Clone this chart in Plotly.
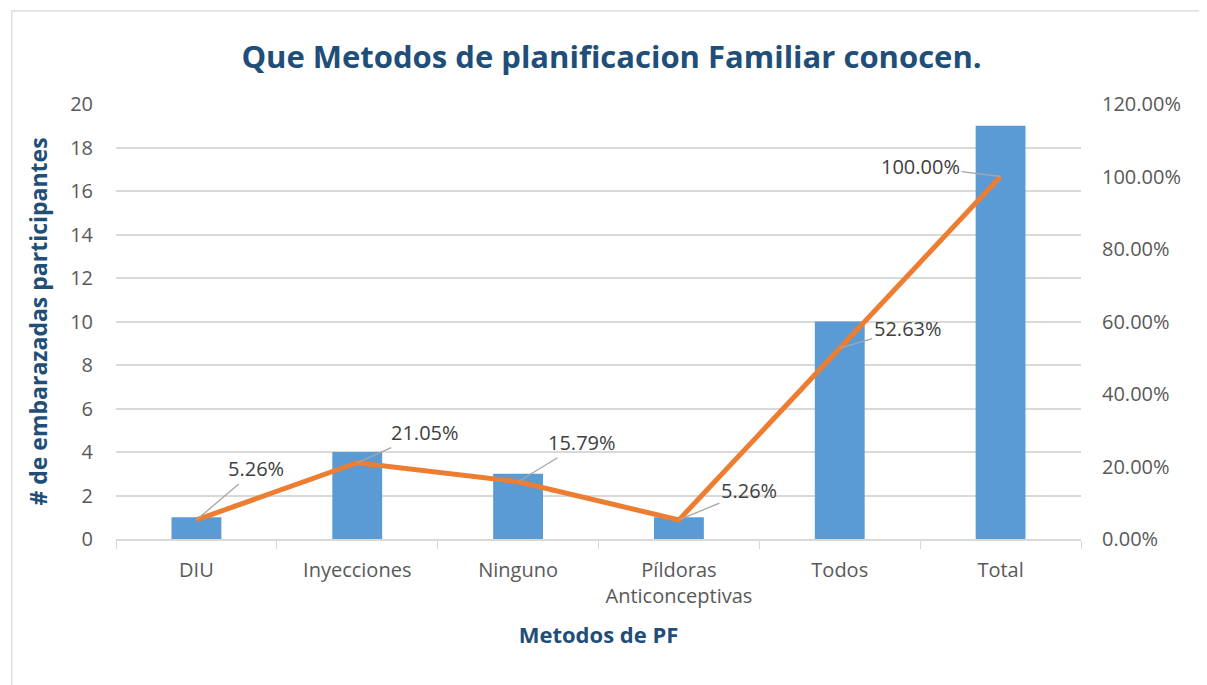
import plotly.graph_objects as go

categorias = ["DIU", "Inyecciones", "Ninguno", "Píldoras<br>Anticonceptivas", "Todos", "Total"]
participantes = [1, 4, 3, 1, 10, 19]
porcentaje = [0.0526, 0.2105, 0.1579, 0.0526, 0.5263, 1.0]
etiquetas = ["5.26%", "21.05%", "15.79%", "5.26%", "52.63%", "100.00%"]
# label offsets in px (ax, ay)
offsets = [(60, -51), (68, -30), (64, -39), (70, -29), (68, -20), (-80, -10)]

azul = "#1F4E79"
gris = "#595959"

fig = go.Figure()
fig.add_trace(go.Bar(x=categorias, y=participantes, marker_color="#5B9BD5",
                     marker_line_width=0, name="Participantes"))
fig.add_trace(go.Scatter(x=categorias, y=porcentaje, yaxis="y2", mode="lines",
                         line=dict(color="#ED7D31", width=5), name="Porcentaje"))

for cat, val, txt, (ax, ay) in zip(categorias, porcentaje, etiquetas, offsets):
    fig.add_annotation(x=cat, y=val, xref="x", yref="y2", text=txt,
                       showarrow=True, arrowhead=0, arrowwidth=1.3,
                       arrowcolor="#A6A6A6", ax=ax, ay=ay,
                       font=dict(size=20, color="#404040"))

# chart border
fig.add_shape(type="rect", xref="paper", yref="paper",
              x0=-0.108, y0=-0.5, x1=1.3, y1=1.214,
              line=dict(color="#D9D9D9", width=1.2), layer="below")

fig.update_layout(
    width=1207, height=685,
    margin=dict(l=108, r=134, t=96, b=154),
    paper_bgcolor="white", plot_bgcolor="white",
    font=dict(family="Open Sans, sans-serif", color=gris),
    showlegend=False,
    bargap=0.69,
    title=dict(text="<b>Que Metodos de planificacion Familiar conocen.</b>",
               x=0.5, xanchor="center", y=0.928, yanchor="middle",
               font=dict(size=31, color=azul)),
    xaxis=dict(type="category", tickson="boundaries", ticks="outside",
               ticklen=8, tickcolor="#D9D9D9", showline=True,
               linecolor="#D9D9D9", linewidth=1.5, ticklabelstandoff=12,
               tickfont=dict(size=20, color=gris),
               title=dict(text="<b>Metodos de PF</b>", standoff=20,
                          font=dict(size=22, color=azul))),
    yaxis=dict(range=[0, 20], dtick=2, showgrid=True, gridcolor="#D9D9D9",
               gridwidth=1.5, zeroline=False, tickfont=dict(size=20, color=gris),
               ticks="", ticklabelstandoff=22,
               title=dict(text="<b># de embarazadas participantes</b>", standoff=16,
                          font=dict(size=23, color=azul))),
    yaxis2=dict(range=[0, 1.2], dtick=0.2, tickformat=".2%", overlaying="y",
                side="right", showgrid=False, zeroline=False,
                tickfont=dict(size=20, color=gris), ticklabelstandoff=20),
)

fig.write_html("out.html")
